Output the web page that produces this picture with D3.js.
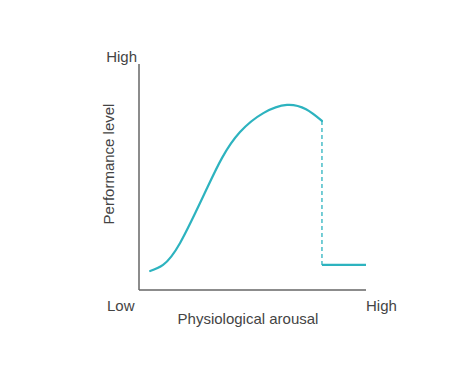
<!DOCTYPE html>
<html>
<head>
<meta charset="utf-8">
<script src="https://cdn.jsdelivr.net/npm/d3@7"></script>
<style>
  body { margin: 0; background: #fff; }
  text { font-family: "Liberation Sans", Arial, sans-serif; fill: #444; }
</style>
</head>
<body>
<svg id="chart" width="474" height="372"></svg>
<script>
// arousal (0-100) vs performance (0-100)
var arousal     = [4.9, 10.6, 18.1, 30.0, 44.5, 65.2, 80.6];
var performance = [8.4, 11.1, 20.8, 45.1, 69.9, 81.9, 74.8];
var dropX = 80.6;
var collapseX = [80.6, 100];
var collapseY = [11.1, 11.1];
var yLabels = ["Low", "High"];
var xLabels = ["Low", "High"];

var svg = d3.select("#chart");
var color = "#2db3bf";
var fontSize = 15;

var x = d3.scaleLinear().domain([0, 100]).range([139, 366]);
var y = d3.scaleLinear().domain([0, 100]).range([290, 64]);

// axes
svg.append("line")
  .attr("x1", x(0)).attr("x2", x(0))
  .attr("y1", y(0)).attr("y2", y(100))
  .attr("stroke", "#666").attr("stroke-width", 1.5);
svg.append("line")
  .attr("x1", x(0)).attr("x2", x(100))
  .attr("y1", y(0)).attr("y2", y(0))
  .attr("stroke", "#666").attr("stroke-width", 1.5);

// curve
var pts = arousal.map(function(d, i) { return [d, performance[i]]; });
var line = d3.line()
  .x(function(d) { return x(d[0]); })
  .y(function(d) { return y(d[1]); })
  .curve(d3.curveNatural);

svg.append("path")
  .datum(pts)
  .attr("d", line)
  .attr("fill", "none")
  .attr("stroke", color)
  .attr("stroke-width", 2.2)
  .attr("stroke-linecap", "round");

// dashed drop
svg.append("line")
  .attr("x1", x(dropX)).attr("x2", x(dropX))
  .attr("y1", y(performance[performance.length - 1])).attr("y2", y(collapseY[0]))
  .attr("stroke", color).attr("stroke-width", 1.3)
  .attr("stroke-dasharray", "4,3");

// flat collapse
svg.append("path")
  .datum(collapseX.map(function(d, i) { return [d, collapseY[i]]; }))
  .attr("d", d3.line().x(function(d) { return x(d[0]); }).y(function(d) { return y(d[1]); }))
  .attr("fill", "none")
  .attr("stroke", color)
  .attr("stroke-width", 2.2);

// labels
svg.append("text")
  .attr("x", 137).attr("y", 62)
  .attr("text-anchor", "end")
  .attr("font-size", fontSize)
  .text(yLabels[1]);
svg.append("text")
  .attr("x", 107).attr("y", 311)
  .attr("font-size", fontSize)
  .text(xLabels[0]);
svg.append("text")
  .attr("x", 366).attr("y", 311)
  .attr("font-size", fontSize)
  .text(xLabels[1]);
svg.append("text")
  .attr("x", 248).attr("y", 324)
  .attr("text-anchor", "middle")
  .attr("font-size", fontSize)
  .text("Physiological arousal");
svg.append("text")
  .attr("transform", "translate(114,164) rotate(-90)")
  .attr("text-anchor", "middle")
  .attr("font-size", fontSize)
  .text("Performance level");
</script>
</body>
</html>
